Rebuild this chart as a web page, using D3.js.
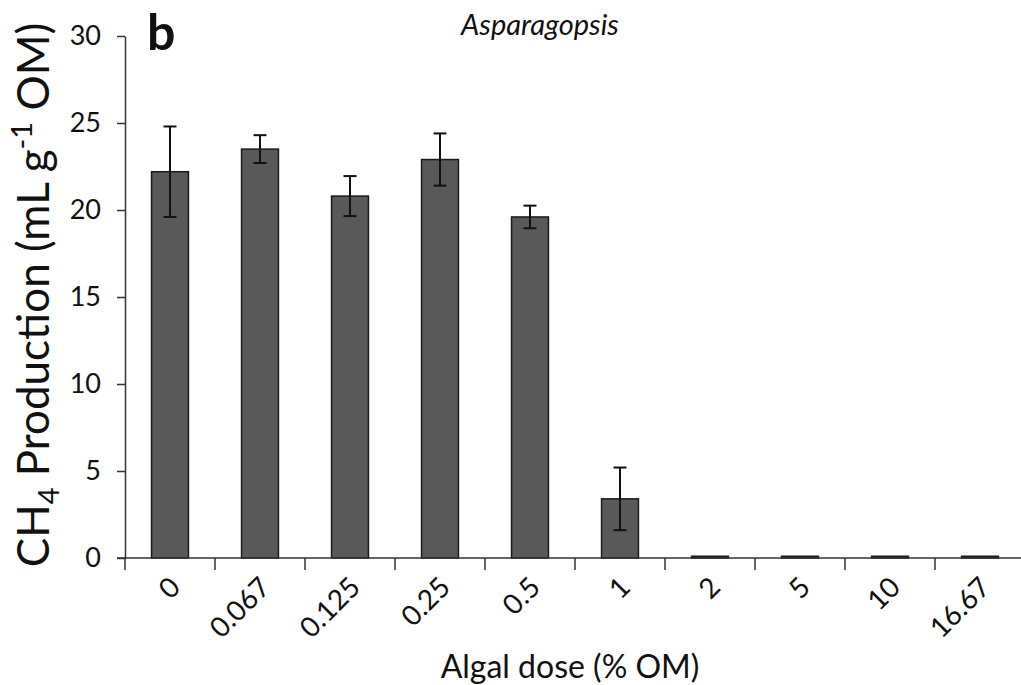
<!DOCTYPE html>
<html>
<head>
<meta charset="utf-8">
<script src="https://cdn.jsdelivr.net/npm/d3@7"></script>
<style>
  body { margin: 0; background: #fff; }
  svg text { font-family: Lato, "Open Sans", sans-serif; fill: #111; }
</style>
</head>
<body>
<div id="chart"></div>
<script>
// Asparagopsis dose response
const doses = ["0", "0.067", "0.125", "0.25", "0.5", "1", "2", "5", "10", "16.67"];
const ch4 = [22.2, 23.5, 20.8, 22.9, 19.6, 3.4, 0.1, 0.1, 0.1, 0.1];
const errs = [2.6, 0.8, 1.15, 1.5, 0.65, 1.8, 0, 0, 0, 0];
const yTicks = [0, 5, 10, 15, 20, 25, 30];

const width = 1021;
const height = 685;

const svg = d3
  .select("#chart")
  .append("svg")
  .attr("width", width)
  .attr("height", height);

const x = d3.scaleBand().domain(doses).range([125, 1025]).paddingInner(0).paddingOuter(0);
const y = d3.scaleLinear().domain([0, 30]).range([558, 36]);

const barW = x.bandwidth() * 0.41;

// bars
svg
  .selectAll("rect.bar")
  .data(doses)
  .enter()
  .append("rect")
  .attr("class", "bar")
  .attr("x", d => x(d) + (x.bandwidth() - barW) / 2)
  .attr("y", (d, i) => y(ch4[i]))
  .attr("width", barW)
  .attr("height", (d, i) => y(0) - y(ch4[i]))
  .style("fill", "#595959")
  .style("stroke", "#1a1a1a")
  .style("stroke-width", 1.5);

// error bars
const eb = svg
  .selectAll("g.err")
  .data(doses.filter((d, i) => errs[i] > 0))
  .enter()
  .append("g")
  .attr("class", "err")
  .style("stroke", "#111")
  .style("stroke-width", 2);

const cx = d => x(d) + x.bandwidth() / 2;
const idx = d => doses.indexOf(d);

eb.append("line")
  .attr("x1", cx)
  .attr("x2", cx)
  .attr("y1", d => y(ch4[idx(d)] + errs[idx(d)]))
  .attr("y2", d => y(ch4[idx(d)] - errs[idx(d)]));
[1, -1].forEach(s => {
  eb.append("line")
    .attr("x1", d => cx(d) - 6.5)
    .attr("x2", d => cx(d) + 6.5)
    .attr("y1", d => y(ch4[idx(d)] + s * errs[idx(d)]))
    .attr("y2", d => y(ch4[idx(d)] + s * errs[idx(d)]));
});

// y axis
const yAxis = svg
  .append("g")
  .attr("transform", "translate(125,0)")
  .call(d3.axisLeft(y).tickValues(yTicks).tickSize(8).tickSizeOuter(0).tickPadding(16));
yAxis.select(".domain").style("stroke", "#333").style("stroke-width", 1.5);
yAxis.selectAll(".tick line").style("stroke", "#333").style("stroke-width", 1.5);
yAxis.selectAll(".tick text").style("font-size", "27px").style("fill", "#111");

// x axis: line plus ticks at category boundaries
svg
  .append("line")
  .attr("x1", 117)
  .attr("x2", width)
  .attr("y1", y(0))
  .attr("y2", y(0))
  .style("stroke", "#333")
  .style("stroke-width", 1.5);

svg
  .selectAll("line.xtick")
  .data(doses)
  .enter()
  .append("line")
  .attr("class", "xtick")
  .attr("x1", d => x(d))
  .attr("x2", d => x(d))
  .attr("y1", y(0))
  .attr("y2", y(0) + 12)
  .style("stroke", "#333")
  .style("stroke-width", 1.5);

svg
  .selectAll("text.xlab")
  .data(doses)
  .enter()
  .append("text")
  .attr("class", "xlab")
  .attr("text-anchor", "end")
  .attr("transform", d => "translate(" + (cx(d) + 12) + ",589) rotate(-45)")
  .style("font-size", "28px")
  .text(d => d);

// axis titles
svg
  .append("text")
  .attr("x", 570)
  .attr("y", 678)
  .attr("text-anchor", "middle")
  .style("font-size", "32px")
  .text("Algal dose (% OM)");

const yt = svg
  .append("text")
  .attr("transform", "translate(49,295) rotate(-90)")
  .attr("text-anchor", "middle")
  .style("font-size", "44px");
yt.append("tspan").text("CH");
yt.append("tspan").attr("dy", 10).style("font-size", "29px").text("4");
yt.append("tspan").attr("dy", -10).text(" Production (mL g");
yt.append("tspan").attr("dy", -17).style("font-size", "29px").text("-1");
yt.append("tspan").attr("dy", 17).text(" OM)");

// panel letter and title
svg
  .append("text")
  .attr("x", 147)
  .attr("y", 50)
  .style("font-size", "50px")
  .style("font-weight", "bold")
  .text("b");

svg
  .append("text")
  .attr("x", 540)
  .attr("y", 35)
  .attr("text-anchor", "middle")
  .style("font-size", "29px")
  .style("font-style", "italic")
  .text("Asparagopsis");
</script>
</body>
</html>
